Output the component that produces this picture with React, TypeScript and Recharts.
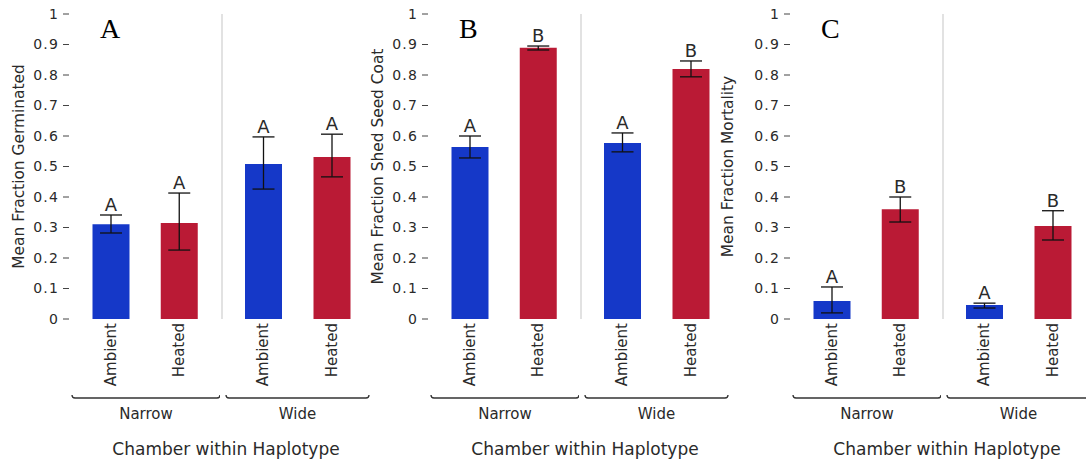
import React from "react";
import {
  BarChart,
  Bar,
  XAxis,
  YAxis,
  ErrorBar,
  Cell,
  LabelList,
} from "recharts";

// 범주 / 축
const chambers = ["Ambient", "Heated"];
const haplotypes = ["Narrow", "Wide"];
const yTicks = [0, 0.1, 0.2, 0.3, 0.4, 0.5, 0.6, 0.7, 0.8, 0.9, 1];

// A: germinated (Narrow-Ambient, Narrow-Heated, Wide-Ambient, Wide-Heated)
const germMean = [0.311, 0.315, 0.508, 0.531];
const germLow = [0.282, 0.226, 0.426, 0.466];
const germHigh = [0.341, 0.413, 0.597, 0.606];
const germLetters = ["A", "A", "A", "A"];

// B: shed seed coat
const shedMean = [0.564, 0.889, 0.577, 0.82];
const shedLow = [0.528, 0.882, 0.548, 0.794];
const shedHigh = [0.6, 0.895, 0.61, 0.846];
const shedLetters = ["A", "B", "A", "B"];

// C: mortality
const mortMean = [0.059, 0.36, 0.046, 0.305];
const mortLow = [0.02, 0.318, 0.036, 0.259];
const mortHigh = [0.105, 0.4, 0.052, 0.355];
const mortLetters = ["A", "B", "A", "B"];

const BLUE = "#1538c8";
const RED = "#ba1a35";
const FONT = "'DejaVu Sans', sans-serif";
const TEXT = "#2a2a2a";

const CHART_H = 423;
const MARGIN = { top: 14, right: 0, bottom: 0, left: 0 };
// 첫 차트를 패널 왼쪽보다 조금 더 앞에서 시작 (y축 제목이 잘리지 않게)
const LEAD = 10;

type Row = {
  chamber: string;
  haplotype: string;
  mean: number;
  hi: number;
  err: [number, number];
  letter: string;
};

function buildRows(h: number, mean: number[], low: number[], high: number[], letters: string[]): Row[] {
  return chambers.map((c, ci) => {
    const i = h * 2 + ci;
    return {
      chamber: c,
      haplotype: haplotypes[h],
      mean: mean[i],
      hi: high[i],
      err: [mean[i] - low[i], high[i] - mean[i]],
      letter: letters[i],
    };
  });
}

function fmtTick(v: number) {
  if (v === 0) return "0";
  if (v === 1) return "1";
  return v.toFixed(1);
}

function ChamberTick(props: any) {
  const { x, y, payload } = props;
  return (
    <text
      x={x}
      y={y}
      transform={`rotate(-90 ${x} ${y})`}
      textAnchor="end"
      dominantBaseline="central"
      fontSize={15}
      fontFamily={FONT}
      fill={TEXT}
    >
      {payload.value}
    </text>
  );
}

// 괄호 모양 그룹 라벨
function makeBracketTick(l: number, r: number) {
  return function BracketTick(props: any) {
    const { y, payload } = props;
    const c = 3;
    const d = `M${l},${y - c} Q${l},${y} ${l + c},${y} L${r - c},${y} Q${r},${y} ${r},${y - c}`;
    return (
      <g>
        <path d={d} fill="none" stroke="#333" strokeWidth={1.3} />
        <text
          x={(l + r) / 2}
          y={y + 21}
          textAnchor="middle"
          fontSize={15}
          fontFamily={FONT}
          fill={TEXT}
        >
          {payload.value}
        </text>
      </g>
    );
  };
}

function makeLetterLabel(rows: Row[]) {
  return function LetterLabel(props: any) {
    const { x, y, width, height, index } = props;
    const row = rows[index];
    if (!row) return null;
    const pxPerUnit = height / row.mean;
    const top = y + height - row.hi * pxPerUnit;
    return (
      <text
        x={x + width / 2}
        y={top - 4}
        textAnchor="middle"
        fontSize={18}
        fontFamily={FONT}
        fill={TEXT}
      >
        {row.letter}
      </text>
    );
  };
}

function GroupChart({
  rows,
  width,
  yWidth,
  padding,
  bracket,
  first,
  title,
  labelX,
}: {
  rows: Row[];
  width: number;
  yWidth: number;
  padding: { left: number; right: number };
  bracket: [number, number];
  first: boolean;
  title?: string;
  labelX?: number;
}) {
  return (
    <BarChart width={width} height={CHART_H} data={rows} margin={MARGIN}>
      {first ? (
        <YAxis
          width={yWidth}
          domain={[0, 1]}
          ticks={yTicks}
          interval={0}
          tickFormatter={fmtTick}
          tickSize={6}
          tickMargin={4}
          axisLine={false}
          tickLine={{ stroke: "#444" }}
          tick={{ fontSize: 14, fontFamily: FONT, fill: TEXT, letterSpacing: 1.2 }}
          label={{
            value: title,
            angle: -90,
            position: "insideLeft",
            offset: labelX,
            style: { textAnchor: "middle" },
            fontSize: 15.4,
            fontFamily: FONT,
            fill: TEXT,
          }}
        />
      ) : (
        <YAxis
          width={yWidth}
          domain={[0, 1]}
          ticks={yTicks}
          tick={false}
          tickLine={false}
          axisLine={{ stroke: "#cfcfcf", strokeWidth: 1.2 }}
        />
      )}
      <XAxis
        dataKey="chamber"
        height={79}
        padding={padding}
        interval={0}
        axisLine={false}
        tickLine={false}
        tickSize={0}
        tickMargin={4}
        tick={<ChamberTick />}
      />
      <XAxis
        xAxisId="grp"
        dataKey="haplotype"
        allowDuplicatedCategory={false}
        height={25}
        axisLine={false}
        tickLine={false}
        tickSize={0}
        tickMargin={0}
        interval={0}
        tick={makeBracketTick(bracket[0], bracket[1])}
      />
      <Bar dataKey="mean" barSize={37} isAnimationActive={false}>
        {rows.map((r, i) => (
          <Cell key={i} fill={r.chamber === "Ambient" ? BLUE : RED} />
        ))}
        <ErrorBar
          dataKey="err"
          width={11}
          stroke="#111"
          strokeWidth={1.3}
          direction="y"
          isAnimationActive={false}
        />
        <LabelList dataKey="letter" content={makeLetterLabel(rows)} />
      </Bar>
    </BarChart>
  );
}

function Panel({
  left,
  letter,
  title,
  labelX,
  mean,
  low,
  high,
  letters,
}: {
  left: number;
  letter: string;
  title: string;
  labelX: number;
  mean: number[];
  low: number[];
  high: number[];
  letters: string[];
}) {
  const narrow = buildRows(0, mean, low, high, letters);
  const wide = buildRows(1, mean, low, high, letters);
  return (
    <>
      <div style={{ position: "absolute", left: left - LEAD, top: 0 }}>
        <GroupChart
          rows={narrow}
          width={220 + LEAD}
          yWidth={69 + LEAD}
          padding={{ left: 7.5, right: 7 }}
          bracket={[72 + LEAD, 220 + LEAD]}
          first
          title={title}
          labelX={labelX + LEAD}
        />
      </div>
      <div style={{ position: "absolute", left: left + 218, top: 0 }}>
        <GroupChart
          rows={wide}
          width={152}
          yWidth={4}
          padding={{ left: 7, right: 4 }}
          bracket={[8, 151]}
          first={false}
        />
      </div>
      <div
        style={{
          position: "absolute",
          left: left + 100,
          top: 15,
          fontFamily: "'Liberation Serif', serif",
          fontSize: 28,
          lineHeight: "28px",
          color: "#000",
        }}
      >
        {letter}
      </div>
      <div
        style={{
          position: "absolute",
          left,
          top: 439,
          width: 452,
          textAlign: "center",
          fontFamily: FONT,
          fontSize: 17,
          lineHeight: "20px",
          color: TEXT,
        }}
      >
        Chamber within Haplotype
      </div>
    </>
  );
}

export default function App() {
  return (
    <div
      style={{
        position: "absolute",
        left: 0,
        top: 0,
        width: 1086,
        height: 459,
        background: "#fff",
        overflow: "hidden",
      }}
    >
      <Panel
        left={0}
        letter="A"
        title="Mean Fraction Germinated"
        labelX={19}
        mean={germMean}
        low={germLow}
        high={germHigh}
        letters={germLetters}
      />
      <Panel
        left={359}
        letter="B"
        title="Mean Fraction Shed Seed Coat"
        labelX={19}
        mean={shedMean}
        low={shedLow}
        high={shedHigh}
        letters={shedLetters}
      />
      <Panel
        left={721}
        letter="C"
        title="Mean Fraction Mortality"
        labelX={7}
        mean={mortMean}
        low={mortLow}
        high={mortHigh}
        letters={mortLetters}
      />
    </div>
  );
}
